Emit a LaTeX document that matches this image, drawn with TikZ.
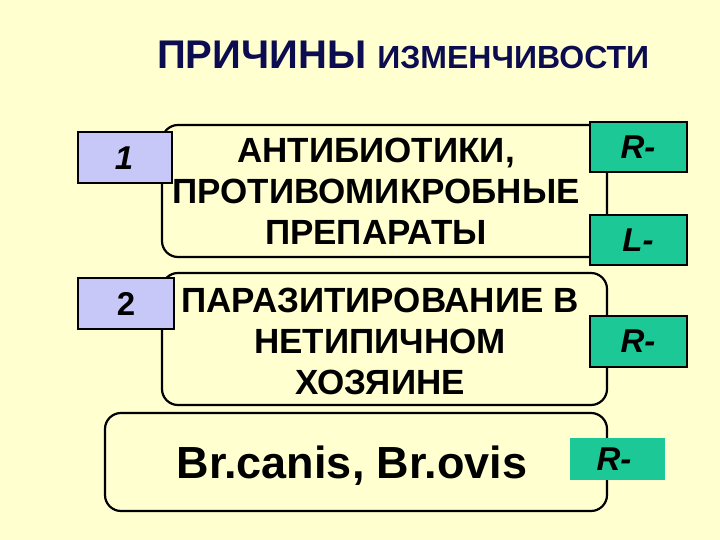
\documentclass[tikz,border=0pt]{standalone}
\usepackage{fontspec}
\setmainfont{Liberation Sans}
\definecolor{bg}{RGB}{255,255,208}
\definecolor{navy}{RGB}{12,12,80}
\definecolor{lav}{RGB}{200,200,248}
\definecolor{grn}{RGB}{28,200,150}
\tikzset{
  mainbox/.style={draw=black, line width=2.2pt, rounded corners=16pt, fill=bg},
  numbox/.style={draw=black, line width=2pt, fill=lav},
  tagbox/.style={draw=black, line width=2pt, fill=grn},
  bigtxt/.style={font=\fontsize{35}{41}\selectfont\bfseries, align=center, inner sep=0pt},
  tagtxt/.style={font=\fontsize{33}{38}\selectfont\bfseries\itshape, inner sep=0pt}
}
\begin{document}
\begin{tikzpicture}[x=1pt,y=-1pt]
\fill[bg] (0,0) rectangle (720,540);
\useasboundingbox (0,0) rectangle (720,540);
% title
\node[text=navy, inner sep=0pt, anchor=base west] (title) at (157,69)
  {\fontsize{40}{44}\selectfont\bfseries ПРИЧИНЫ \fontsize{32}{36}\selectfont ИЗМЕНЧИВОСТИ};
% main boxes
\draw[mainbox] (162,125) rectangle (607,257);
\draw[mainbox] (162,273) rectangle (607,405);
\draw[mainbox] (105,413) rectangle (607,511);
% texts
\node[bigtxt] (t1) at (376,191) {АНТИБИОТИКИ,\\ПРОТИВОМИКРОБНЫЕ\\ПРЕПАРАТЫ};
\node[bigtxt] (t2) at (380,341) {ПАРАЗИТИРОВАНИЕ В\\НЕТИПИЧНОМ\\ХОЗЯИНЕ};
\node[font=\fontsize{45}{48}\selectfont\bfseries, inner sep=0pt] (t3) at (352,466) {Br.canis, Br.ovis};
% number boxes
\draw[numbox] (78,132) rectangle (172,183);
\node[tagtxt] (n1) at (124,158) {1};
\draw[numbox] (78,278) rectangle (174,329);
\node[font=\fontsize{33}{38}\selectfont\bfseries, inner sep=0pt] (n2) at (126,304) {2};
% tag boxes
\draw[tagbox] (590,122) rectangle (687,172);
\node[tagtxt] (r1) at (638,147) {R-};
\draw[tagbox] (590,215) rectangle (687,265);
\node[tagtxt] (l1) at (638,240) {L-};
\draw[tagbox] (590,316) rectangle (687,367);
\node[tagtxt] (r2) at (638,341) {R-};
\fill[grn] (570,438) rectangle (665,480);
\node[tagtxt] (r3) at (614,459) {R-};
\end{tikzpicture}
\end{document}
